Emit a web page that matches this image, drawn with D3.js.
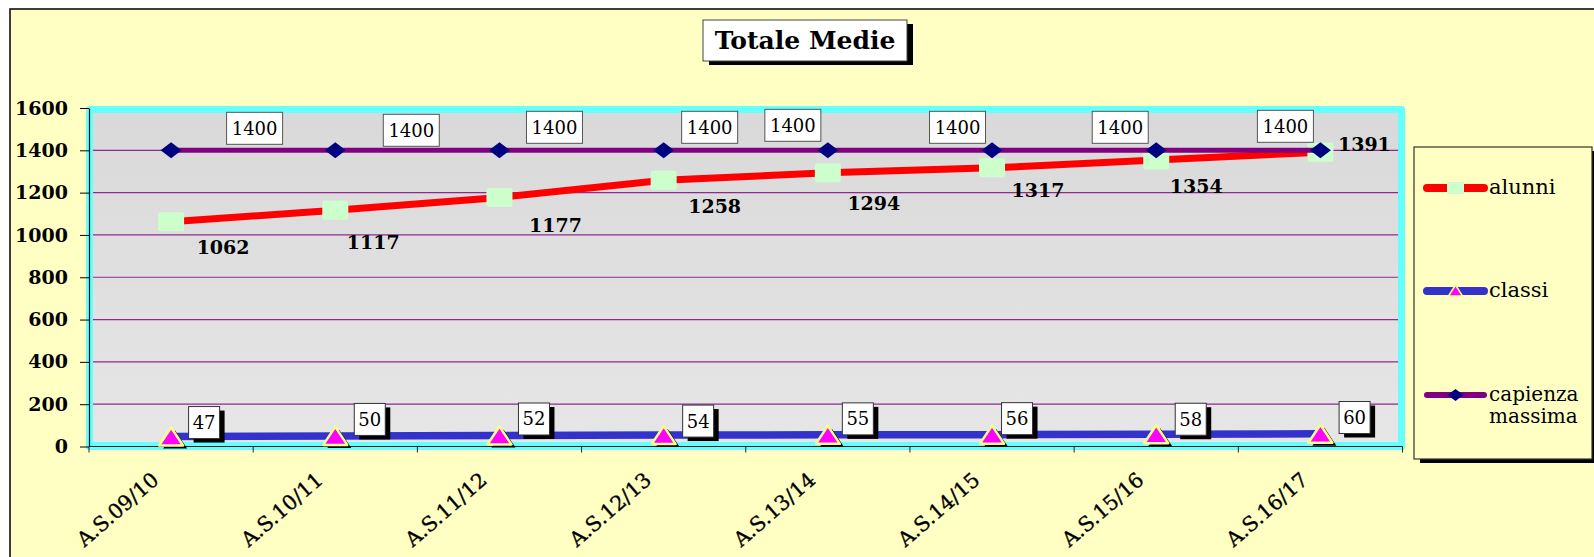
<!DOCTYPE html>
<html><head><meta charset="utf-8">
<script src="https://cdn.jsdelivr.net/npm/d3@7"></script>
<style>
body{margin:0;background:#fff}
svg{display:block}
text{font-family:"DejaVu Serif",serif;fill:#000}
</style>
</head><body>
<svg id="c" width="1594" height="557"></svg>
<script>
// ---------- data ----------
const categories = ["A.S.09/10","A.S.10/11","A.S.11/12","A.S.12/13","A.S.13/14","A.S.14/15","A.S.15/16","A.S.16/17"];
const alunni   = [1062,1117,1177,1258,1294,1317,1354,1391];
const classi   = [47,50,52,54,55,56,58,60];
const capienza = [1400,1400,1400,1400,1400,1400,1400,1400];
const yTicks   = [0,200,400,600,800,1000,1200,1400,1600];
const legendNames = ["alunni","classi","capienza massima"];
const chartTitle = "Totale Medie";

// ---------- label layout (offsets from the point, px) ----------
const capLabelOffset    = [[83.5,-22],[76,-20],[55,-23],[46,-23],[-35,-25],[-34.5,-23],[-36,-23],[-35,-24]];
const alunniLabelOffset = [[52,25],[38,32],[56,28],[51,26],[46,30],[46,22],[40,26],[44,-8]];
const classiLabelOffset = [[33,-14],[34.5,-16.5],[34.5,-16.5],[34.5,-14],[30,-16],[25,-16],[34.5,-15],[34.2,-16.3]];

const BG = "#FFFFC4";
const svg = d3.select("#c");

// outer frame
svg.append("rect").attr("x",10).attr("y",9).attr("width",1620).attr("height",580)
  .attr("fill",BG).attr("stroke","#000").attr("stroke-width",1.5);

const x = d3.scaleBand().domain(categories).range([89,1402.5]).paddingInner(0).paddingOuter(0);
const y = d3.scaleLinear().domain([0,1600]).range([446.5,108]);
const cx = c => x(c) + x.bandwidth()/2;

// plot area
const defs = svg.append("defs");
const grad = defs.append("linearGradient").attr("id","pg").attr("x1",0).attr("y1",0).attr("x2",0).attr("y2",1);
grad.append("stop").attr("offset","0%").attr("stop-color","#D9D9D9");
grad.append("stop").attr("offset","100%").attr("stop-color","#E6E6E6");
svg.append("rect").attr("x",86).attr("y",106).attr("width",1319).attr("height",344).attr("rx",3).attr("fill","#66FFFF");
svg.append("rect").attr("x",93).attr("y",113).attr("width",1305).attr("height",329).attr("fill","url(#pg)");

// gridlines
svg.append("g").selectAll("line").data(yTicks.filter(v=>v>0 && v<1600)).join("line")
  .attr("x1",93).attr("x2",1398).attr("y1",d=>y(d)).attr("y2",d=>y(d))
  .attr("stroke","#8E2A8E").attr("stroke-width",1.2);

// y axis
const ya = svg.append("g").attr("transform","translate(89,0)")
  .call(d3.axisLeft(y).tickValues(yTicks).tickSize(9).tickSizeOuter(0).tickPadding(12).tickFormat(d3.format("d")));
ya.select(".domain").attr("stroke","#000").attr("stroke-width",1.2);
ya.selectAll(".tick line").attr("stroke","#000");
ya.selectAll(".tick text").style("font-family","DejaVu Serif").style("font-weight","bold").style("font-size","19px").attr("fill","#000");

// x axis
svg.append("line").attr("x1",89).attr("x2",1402.5).attr("y1",y(0)).attr("y2",y(0)).attr("stroke","#222").attr("stroke-width",1.2);
const edges = categories.map(c=>x(c)).concat([x(categories[categories.length-1])+x.bandwidth()]);
svg.append("g").selectAll("line").data(edges).join("line")
  .attr("x1",d=>d).attr("x2",d=>d).attr("y1",y(0)).attr("y2",y(0)+6).attr("stroke","#222");
svg.append("g").selectAll("text").data(categories).join("text")
  .attr("transform",d=>`translate(${cx(d)-11},482) rotate(-41)`)
  .attr("text-anchor","end")
  .style("font-size","20.5px").style("stroke","#000").style("stroke-width","0.35px").text(d=>d);

const line = d3.line().x((d,i)=>cx(categories[i])).y(d=>y(d));

// classi
svg.append("path").datum(classi).attr("d",line).attr("fill","none").attr("stroke","#3333CC").attr("stroke-width",7.5);
const tri = "M0,-10 L12,8 L-12,8 Z";
const tg = svg.append("g").selectAll("g").data(classi).join("g")
  .attr("transform",(d,i)=>`translate(${cx(categories[i])},${y(d)+1})`);
tg.append("path").attr("d",tri).attr("transform","translate(4,3)").attr("fill","#000");
tg.append("path").attr("d",tri).attr("fill","#FF00FF").attr("stroke","#FFFF88").attr("stroke-width",2.5).attr("stroke-linejoin","round");

// alunni
svg.append("path").datum(alunni).attr("d",line).attr("fill","none").attr("stroke","#FF0000").attr("stroke-width",7);
svg.append("g").selectAll("rect").data(alunni).join("rect")
  .attr("x",(d,i)=>cx(categories[i])-13).attr("y",d=>y(d)-9.5).attr("width",26).attr("height",19).attr("rx",2)
  .attr("fill","#CCFFCC");

// capienza
svg.append("path").datum(capienza).attr("d",line).attr("fill","none").attr("stroke","#800080").attr("stroke-width",5);
svg.append("g").selectAll("path").data(capienza).join("path")
  .attr("d","M-10.5,0 L0,-8 L10.5,0 L0,8 Z")
  .attr("transform",(d,i)=>`translate(${cx(categories[i])},${y(d)})`).attr("fill","#000080");

// capienza labels
const cl = svg.append("g").selectAll("g").data(capienza).join("g")
  .attr("transform",(d,i)=>`translate(${cx(categories[i])+capLabelOffset[i][0]},${y(d)+capLabelOffset[i][1]})`);
cl.append("rect").attr("x",-28).attr("y",-16).attr("width",56).attr("height",32).attr("fill","#fff").attr("stroke","#555").attr("stroke-width",1);
cl.append("text").attr("text-anchor","middle").attr("y",6.5).style("font-size","18px").text(d=>d);

// alunni labels
svg.append("g").selectAll("text").data(alunni).join("text")
  .attr("x",(d,i)=>cx(categories[i])+alunniLabelOffset[i][0])
  .attr("y",(d,i)=>y(d)+alunniLabelOffset[i][1]+7)
  .attr("text-anchor","middle").style("font-size","19px").style("font-weight","bold").text(d=>d);

// classi labels
const kl = svg.append("g").selectAll("g").data(classi).join("g")
  .attr("transform",(d,i)=>`translate(${cx(categories[i])+classiLabelOffset[i][0]},${y(d)+classiLabelOffset[i][1]})`);
kl.append("rect").attr("x",-15.5+5).attr("y",-16+4).attr("width",31).attr("height",32).attr("fill","#000");
kl.append("rect").attr("x",-15.5).attr("y",-16).attr("width",31).attr("height",32).attr("fill","#fff").attr("stroke","#333").attr("stroke-width",1);
kl.append("text").attr("text-anchor","middle").attr("y",6.5).style("font-size","18px").text(d=>d);

// title
const tb = svg.append("g");
tb.append("rect").attr("x",709).attr("y",24).attr("width",204).attr("height",41).attr("fill","#000");
tb.append("rect").attr("x",703).attr("y",20).attr("width",204).attr("height",41).attr("fill","#fff").attr("stroke","#444").attr("stroke-width",1);
tb.append("text").attr("x",805).attr("y",48.5).attr("text-anchor","middle")
  .style("font-size","25px").style("font-weight","bold").text(chartTitle);

// legend
const lg = svg.append("g");
lg.append("rect").attr("x",1420).attr("y",151).attr("width",178).attr("height",312).attr("fill","#000");
lg.append("rect").attr("x",1414).attr("y",147).attr("width",178).attr("height",312).attr("fill",BG).attr("stroke","#333").attr("stroke-width",1.2);
const legY = [188,291,395];
const legColors = ["#FF0000","#3333CC","#800080"];
const legW = [8,8,6];
legendNames.forEach((n,i)=>{
  lg.append("line").attr("x1",1427).attr("x2",1484).attr("y1",legY[i]).attr("y2",legY[i])
    .attr("stroke",legColors[i]).attr("stroke-width",legW[i]).attr("stroke-linecap","round");
});
lg.append("rect").attr("x",1447).attr("y",legY[0]-6).attr("width",17).attr("height",12).attr("fill","#CCFFCC");
lg.append("path").attr("d","M0,-6 L7,5 L-7,5 Z").attr("transform",`translate(1455.5,${legY[1]})`)
  .attr("fill","#FF00FF").attr("stroke","#FFFF88").attr("stroke-width",1.5);
lg.append("path").attr("d","M-8,0 L0,-6 L8,0 L0,6 Z").attr("transform",`translate(1455.5,${legY[2]})`).attr("fill","#000080");
lg.append("text").attr("x",1489).attr("y",legY[0]+6).style("font-size","21px").text(legendNames[0]);
lg.append("text").attr("x",1489).attr("y",legY[1]+6).style("font-size","21px").text(legendNames[1]);
const parts = legendNames[2].split(" ");
lg.append("text").attr("x",1489).attr("y",legY[2]+6).style("font-size","20px").text(parts[0]);
lg.append("text").attr("x",1489).attr("y",legY[2]+28).style("font-size","20px").text(parts[1]);
</script>
</body></html>
